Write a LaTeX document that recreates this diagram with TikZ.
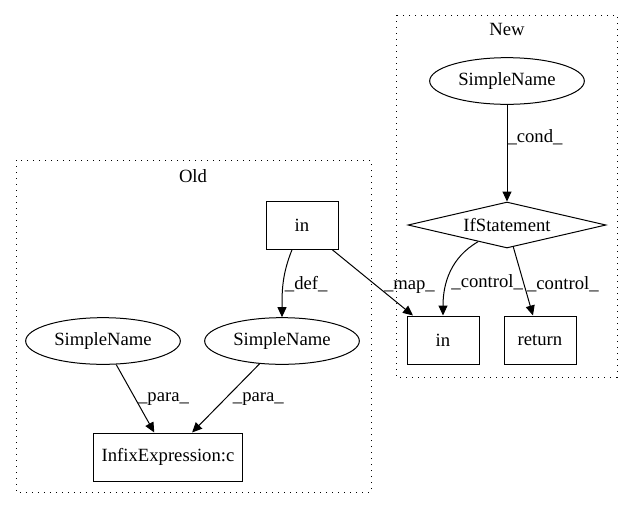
\documentclass[tikz,border=0pt]{standalone}
\usepackage{fontspec}
\setmainfont{Liberation Serif}
\usetikzlibrary{arrows.meta,shapes.geometric}

\begin{document}
\begin{tikzpicture}[x=0.75pt,y=-0.75pt]
            \tikzset{box/.style={draw, line width=.75pt, rectangle, minimum width=54pt, minimum height=36pt, inner sep=2pt, font=\fontsize{14pt}{16pt}\selectfont},
            ell/.style={draw, line width=.75pt, ellipse, minimum width=116pt, minimum height=35pt, inner sep=0pt, font=\fontsize{14pt}{16pt}\selectfont},
            cond/.style={draw, line width=.75pt, diamond, aspect=4.3, minimum width=148.5pt, minimum height=34.5pt, inner sep=0pt, font=\fontsize{14pt}{16pt}\selectfont},
            edge/.style={line width=.75pt, -{Triangle[length=7.5pt, width=6.75pt]}},
            lbl/.style={anchor=west, inner sep=0pt, font=\fontsize{14pt}{16pt}\selectfont},
            clus/.style={line width=.75pt, dash pattern=on 1.1pt off 3.4pt}}

            \useasboundingbox (0,0) rectangle (632,508);

            % clusters
            \draw[clus] (16,160) rectangle (371,492);
            \node[lbl, anchor=center] (oldlbl) at (193,176) {Old};
            \draw[clus] (396,15) rectangle (617,377);
            \node[lbl, anchor=center] (newlbl) at (507,29) {New};

            % old side
            \node[box] (oin) at (302,225) {in};
            \node[ell] (osn1) at (103,341) {SimpleName};
            \node[ell] (osn2) at (282,341) {SimpleName};
            \node[box, minimum width=112pt] (infix) at (168,457) {InfixExpression:c};

            % new side
            \node[ell] (nsn) at (507,81) {SimpleName};
            \node[cond] (ifs) at (507,225) {IfStatement};
            \node[box] (nin) at (443,340) {in};
            \node[box] (ret) at (540,340) {return};

            \draw[edge] (oin) to[out=-112, in=90] node[lbl, pos=.52, xshift=1pt] {\_def\_} (osn2);
            \draw[edge] (oin) -- node[lbl, pos=.57, xshift=4pt] {\_map\_} (nin);
            \draw[edge] (osn1) -- node[lbl, pos=.51, xshift=1.5pt] {\_para\_} (infix);
            \draw[edge] (osn2) -- node[lbl, pos=.51, xshift=5.5pt] {\_para\_} (infix);
            \draw[edge] (nsn) -- node[lbl, pos=.33] {\_cond\_} (ifs);
            \draw[edge] (ifs) to[out=-150, in=90] node[lbl, pos=.62, xshift=3pt] {\_control\_} (nin);
            \draw[edge] (ifs) -- node[lbl, pos=.54, xshift=2pt] {\_control\_} (ret);
        \end{tikzpicture}
\end{document}
